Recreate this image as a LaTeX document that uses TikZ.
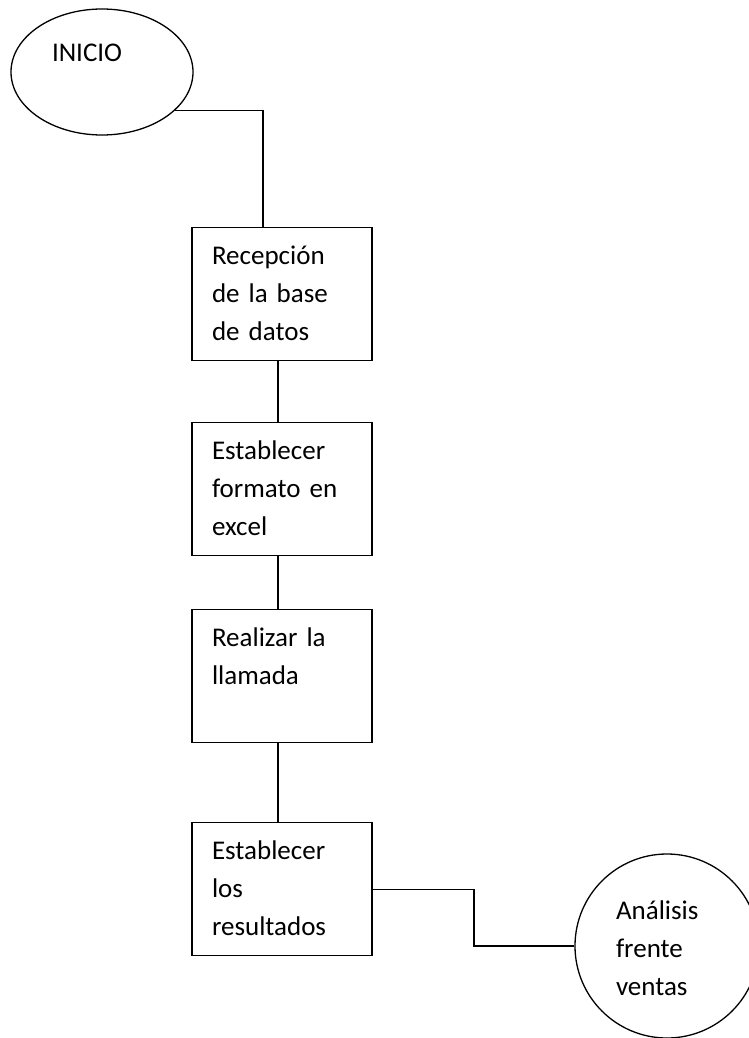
\documentclass[tikz,border=0pt]{standalone}
\usepackage{fontspec}
\setmainfont{Carlito}
\usetikzlibrary{shapes.geometric}
\tikzset{
  flowline/.style={line width=1.3pt},
  stepbox/.style={draw, rectangle, line width=1.3pt, anchor=north,
    text width=140pt, inner xsep=20pt, inner ysep=0pt, align=left,
    text height=37pt, text depth=96pt},
  startshape/.style={draw, ellipse, line width=1.3pt, inner sep=0pt,
    minimum width=182pt, minimum height=126pt, text width=100pt,
    align=left, text height=18pt, text depth=38pt},
  endshape/.style={draw, circle, line width=1.3pt, inner sep=0pt,
    minimum size=184pt, text width=102pt, align=left,
    text height=24pt, text depth=78pt}
}
\begin{document}
\begin{tikzpicture}[x=1pt, y=-1pt, font=\fontsize{27}{38}\selectfont]
  \useasboundingbox (0,0) rectangle (748,1038);
  \node[startshape] (inicio) at (102,72) {INICIO};
  \node[stepbox] (recepcion) at (282,227) {Recepción\\de la base\\de datos};
  \node[stepbox] (formato) at (282,422) {Establecer\\formato en\\excel};
  \node[stepbox] (llamada) at (282,609) {Realizar la\\llamada};
  \node[stepbox] (resultados) at (282,822) {Establecer\\los\\resultados};
  \node[endshape] (analisis) at (667,946) {Análisis\\frente\\ventas};
  \coordinate (jog) at (474,0);
  \begin{scope}[flowline]
    \draw (inicio.-28) -| ([xshift=-19pt]recepcion.north);
    \draw ([xshift=-4pt]recepcion.south) -- ([xshift=-4pt]formato.north);
    \draw ([xshift=-4pt]formato.south) -- ([xshift=-4pt]llamada.north);
    \draw ([xshift=-4pt]llamada.south) -- ([xshift=-4pt]resultados.north);
    \draw (resultados.east) -| (jog |- analisis.west) -- (analisis.west);
  \end{scope}
\end{tikzpicture}
\end{document}
